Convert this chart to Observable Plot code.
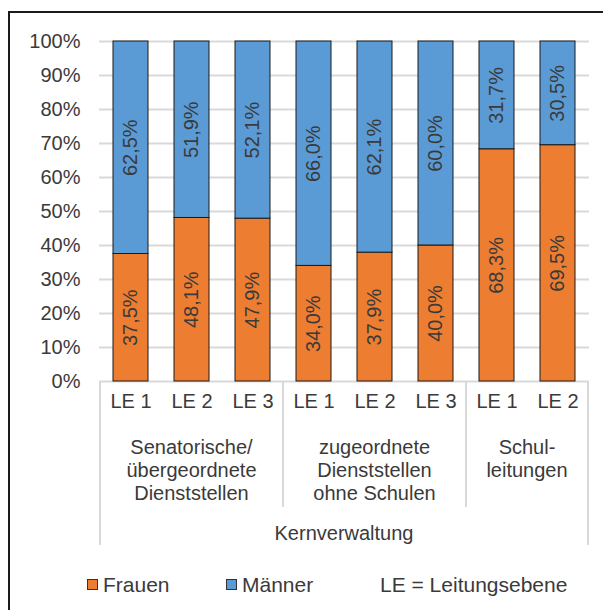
<!DOCTYPE html>
<html>
<head>
<meta charset="utf-8">
<script src="https://cdn.jsdelivr.net/npm/d3@7"></script>
<script src="https://cdn.jsdelivr.net/npm/@observablehq/plot@0.6"></script>
<style>
  body { margin: 0; background: #fff; }
  #wrap { position: relative; width: 603px; height: 610px; overflow: hidden; font-family: "Liberation Sans", Arial, sans-serif; }
  #chart { position: absolute; left: 0; top: 0; }
  #frame { position: absolute; left: 8px; top: 11px; width: 700px; height: 700px; border-left: 2px solid #1a1a1a; border-top: 2px solid #1a1a1a; pointer-events: none; }
  #legend { position: absolute; left: 0; top: 570px; width: 603px; height: 40px; font-size: 21px; color: #3a3a3a; }
  .item { position: absolute; top: 4px; line-height: 21px; height: 21px; display: flex; align-items: center; white-space: nowrap; }
  .sw { display: inline-block; width: 9px; height: 9px; border: 1px solid #333; margin-right: 5px; }
</style>
</head>
<body>
<div id="wrap">
  <div id="chart"></div>
  <div id="frame"></div>
  <div id="legend"></div>
</div>
<script>
// ---- data ----
const levels  = ["LE 1", "LE 2", "LE 3", "LE 1", "LE 2", "LE 3", "LE 1", "LE 2"];
const groupOf = [0, 0, 0, 1, 1, 1, 2, 2];
const groups  = ["Senatorische/\nübergeordnete\nDienststellen", "zugeordnete\nDienststellen\nohne Schulen", "Schul-\nleitungen"];
const topGroup = "Kernverwaltung";
const frauen  = [37.5, 48.1, 47.9, 34.0, 37.9, 40.0, 68.3, 69.5];
const maenner = [62.5, 51.9, 52.1, 66.0, 62.1, 60.0, 31.7, 30.5];
const series  = ["Frauen", "Männer"];
const colors  = ["#ED7D31", "#5B9BD5"];
const yTicks  = [0, 10, 20, 30, 40, 50, 60, 70, 80, 90, 100];
const note    = "LE = Leitungsebene";

// ---- derived table ----
const keys = levels.map((l, i) => groupOf[i] + "|" + l);
const rows = [];
keys.forEach((k, i) => {
  rows.push({key: k, series: series[0], value: frauen[i]});
  rows.push({key: k, series: series[1], value: maenner[i]});
});
const fmt = v => v.toFixed(1).replace(".", ",") + "%";

const textColor = "#3a3a3a";
const gridColor = "#d9d9d9";

// hierarchical category axis (lines + group labels), positioned by the x scale
function categoryAxis(index, scales, values, dims) {
  const x = scales.x;
  const bw = x.bandwidth();
  const step = x.step ? x.step() : (dims.width - dims.marginLeft - dims.marginRight) / keys.length;
  const y0 = dims.height - dims.marginBottom;
  const left = k => x(k) + bw / 2 - step / 2;
  const right = k => x(k) + bw / 2 + step / 2;
  const g = d3.create("svg:g");
  const spans = groups.map((name, gi) => {
    const ks = keys.filter((k, i) => groupOf[i] === gi);
    return {name, x1: left(ks[0]), x2: right(ks[ks.length - 1])};
  });
  const L = spans[0].x1, R = spans[spans.length - 1].x2;
  // outer lines
  [L, R].forEach(px => g.append("line").attr("x1", px).attr("x2", px).attr("y1", y0).attr("y2", y0 + 164)
    .attr("stroke", gridColor).attr("stroke-width", 2));
  // inner separators
  spans.slice(1).forEach(s => g.append("line").attr("x1", s.x1).attr("x2", s.x1).attr("y1", y0).attr("y2", y0 + 126)
    .attr("stroke", gridColor).attr("stroke-width", 2));
  // group labels
  spans.forEach(s => {
    const t = g.append("text").attr("text-anchor", "middle").attr("fill", textColor).attr("font-size", 20);
    s.name.split("\n").forEach((line, li) => {
      t.append("tspan").attr("x", (s.x1 + s.x2) / 2).attr("y", y0 + 73 + li * 23).text(line);
    });
  });
  g.append("text").attr("text-anchor", "middle").attr("fill", textColor).attr("font-size", 20)
    .attr("x", (L + R) / 2).attr("y", y0 + 159).text(topGroup);
  return g.node();
}

const chart = Plot.plot({
  width: 603,
  height: 570,
  marginLeft: 99,
  marginRight: 14,
  marginTop: 41,
  marginBottom: 189,
  style: {background: "transparent", fontFamily: "Liberation Sans, Arial, sans-serif", fontSize: "20px", color: textColor},
  x: {domain: keys, paddingInner: 0.43, paddingOuter: 0.215, axis: null},
  y: {domain: [0, 100], ticks: 10, tickSize: 0, tickPadding: 19, tickFormat: d => d + "%", label: null},
  color: {domain: series, range: colors},
  marks: [
    Plot.ruleY(yTicks, {stroke: gridColor, strokeWidth: 2}),
    Plot.barY(rows, {x: "key", y: "value", fill: "series", stroke: "#1a1a1a", strokeWidth: 1}),
    Plot.text(rows, Plot.stackY({x: "key", y: "value", z: "series", text: d => fmt(d.value), rotate: -90, fontSize: 20, fill: textColor})),
    Plot.text(keys, {x: d => d, text: (d, i) => levels[i], frameAnchor: "bottom", dy: 26.6, fontSize: 20, fill: textColor}),
    categoryAxis
  ]
});
document.getElementById("chart").appendChild(chart);

// legend
const legend = document.getElementById("legend");
const legendX = [87, 226];
series.forEach((s, i) => {
  const it = document.createElement("div");
  it.className = "item";
  it.style.left = legendX[i] + "px";
  const sw = document.createElement("span");
  sw.className = "sw";
  sw.style.background = colors[i];
  it.appendChild(sw);
  it.appendChild(document.createTextNode(s));
  legend.appendChild(it);
});
const n = document.createElement("div");
n.className = "item";
n.style.left = "380px";
n.textContent = note;
legend.appendChild(n);
</script>
</body>
</html>
